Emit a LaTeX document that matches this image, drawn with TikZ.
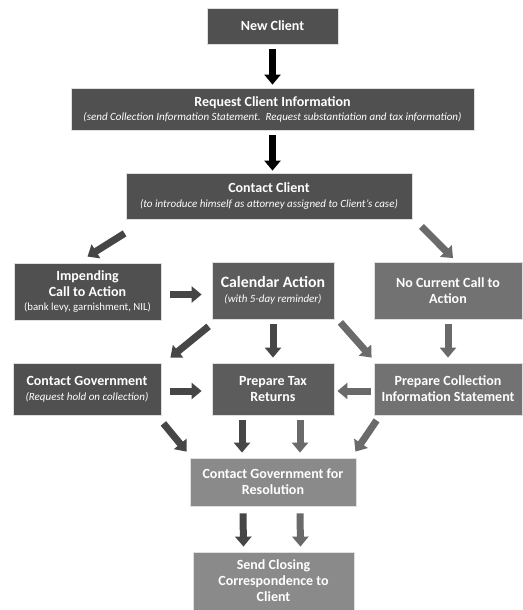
\documentclass[tikz,border=0pt]{standalone}
\usepackage{fontspec}
\setmainfont{Carlito}
\usepackage{tikz}
\usetikzlibrary{arrows.meta, calc}
\definecolor{boxdark}{RGB}{80, 80, 80}
\definecolor{boxmid}{RGB}{92, 92, 92}
\definecolor{boxlight}{RGB}{114, 114, 114}
\definecolor{boxpale}{RGB}{138, 138, 138}
\definecolor{arrdark}{RGB}{70, 70, 70}
\definecolor{arrmid}{RGB}{106, 106, 106}

\begin{document}
\begin{tikzpicture}[
  x=1pt, y=-1pt,
  sbox/.style={draw=gray!25, line width=0.8pt, text=white, align=center, inner sep=0pt, font=\fontsize{14}{16}\selectfont\bfseries},
  barrow/.style={line width=7pt, -{Triangle[length=10pt, width=16pt]}}
]
  \useasboundingbox (0,0) rectangle (522,610);

  % Top chain
  \node[sbox, fill=boxdark, minimum width=131pt, minimum height=36pt] (nc) at (272.5, 26) {New Client};
  \node[sbox, fill=boxdark, minimum width=403pt, minimum height=42pt] (rci) at (272.5, 109) {Request Client Information\\[-2pt]
    {\mdseries\itshape\fontsize{11}{12}\selectfont (send Collection Information Statement.\ \ Request substantiation and tax information)}};
  \node[sbox, fill=boxdark, minimum width=286pt, minimum height=46pt] (cc) at (269, 196) {Contact Client\\[-1pt]
    {\mdseries\itshape\fontsize{11}{12}\selectfont (to introduce himself as attorney assigned to Client's case)}};

  \draw[barrow, black] ($(nc.south)+(0,5)$) -- ($(rci.north)+(0,-3)$);
  \draw[barrow, black] ($(rci.south)+(0,5)$) -- ($(rci.south|-cc.north)+(0,-2)$);

  % Second row
  \node[sbox, fill=boxdark, minimum width=147pt, minimum height=57pt] (ica) at (87.5, 291.5) {Impending\\Call to Action\\[-2pt]
    {\mdseries\fontsize{10.8}{12}\selectfont (bank levy, garnishment, NIL)}};
  \node[sbox, fill=boxmid, minimum width=122pt, minimum height=57pt] (cal) at (273, 290.5) {{\fontsize{15.8}{17}\selectfont Calendar Action}\\[-1pt]
    {\mdseries\itshape\fontsize{11}{12}\selectfont (with 5-day reminder)}};
  \node[sbox, fill=boxlight, minimum width=148pt, minimum height=57pt] (ncc) at (448, 291) {No Current Call to\\Action};

  \draw[barrow, arrdark] ($(cc.south west)+(-1,14)$) -- ($(ica.north)+(0,-6)$);
  \draw[barrow, arrmid] ($(cc.south east)+(9,7)$) -- ($(ncc.north)+(5,-4)$);
  \draw[barrow, arrdark] ($(ica.east)+(9,3)$) -- ($(cal.west)+(-10,4)$);

  % Third row
  \node[sbox, fill=boxdark, minimum width=148pt, minimum height=52pt] (cg) at (87, 389) {Contact Government\\[-1pt]
    {\mdseries\itshape\fontsize{11}{12}\selectfont (Request hold on collection)}};
  \node[sbox, fill=boxmid, minimum width=122pt, minimum height=52pt] (ptr) at (273, 389) {Prepare Tax\\Returns};
  \node[sbox, fill=boxlight, minimum width=148pt, minimum height=52pt] (pcis) at (448, 389) {Prepare Collection\\Information Statement};

  \draw[barrow, arrdark] ($(cal.south west)+(-3,7)$) -- ($(cg.north east)+(9,-5)$);
  \draw[barrow, arrdark] ($(cal.south)+(0,5)$) -- ($(ptr.north)+(0,-5)$);
  \draw[barrow, arrmid] ($(cal.south east)+(6,3)$) -- ($(pcis.north west)+(-2,-5)$);
  \draw[barrow, arrmid] ($(ncc.south)+(0,4)$) -- ($(pcis.north)+(0,-5)$);
  \draw[barrow, arrdark] ($(cg.east)+(9,2)$) -- ($(ptr.west)+(-10,2)$);
  \draw[barrow, arrmid] ($(pcis.west)+(-3,2)$) -- ($(ptr.east)+(3,2)$);

  % Bottom
  \node[sbox, fill=boxpale, minimum width=166pt, minimum height=48pt] (cgr) at (273, 482) {Contact Government for\\Resolution};
  \node[sbox, fill=boxpale, minimum width=161pt, minimum height=58pt] (scc) at (273.5, 581) {Send Closing\\Correspondence to\\Client};

  \draw[barrow, arrdark] ($(cg.south east)+(2,8)$) -- ($(cgr.north west)+(-3,-6)$);
  \draw[barrow, arrdark] ($(ptr.south)+(-31,5)$) -- ($(cgr.north)+(-31,-5)$);
  \draw[barrow, arrmid] ($(ptr.south)+(27,5)$) -- ($(cgr.north)+(27,-5)$);
  \draw[barrow, arrmid] ($(pcis.south west)+(3,5)$) -- ($(cgr.north east)+(-1,-6)$);
  \draw[barrow, arrdark] ($(cgr.south)+(-30,7)$) -- ($(scc.north)+(-30,-5)$);
  \draw[barrow, arrmid] ($(cgr.south)+(27,7)$) -- ($(scc.north)+(27,-5)$);
\end{tikzpicture}
\end{document}
